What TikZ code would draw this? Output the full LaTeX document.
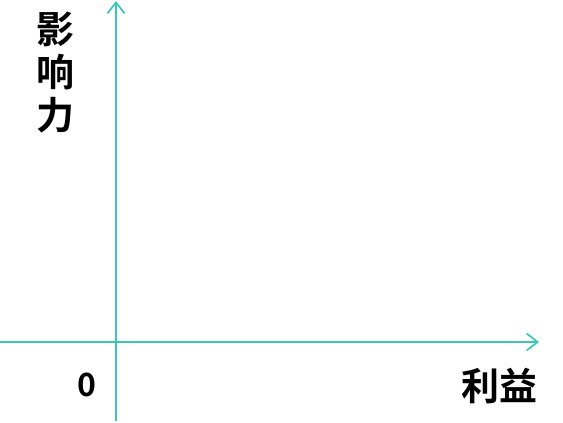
\documentclass[tikz,border=0pt]{standalone}
\usepackage{fontspec}
\usepackage{tikz}
\usetikzlibrary{positioning,arrows.meta}
\newfontfamily\cjk{Noto Sans CJK SC}[BoldFont={Noto Sans CJK SC Bold}]
\definecolor{AxisTeal}{HTML}{3CC6B8}

\begin{document}
\begin{tikzpicture}[
    x=1pt, y=1pt,
    axis/.style={line width=1.7pt, color=AxisTeal,
      -{Straight Barb[length=11pt, width=17pt, line width=1.7pt]}},
    label/.style={font=\cjk\bfseries\fontsize{38}{43}\selectfont, align=center, inner sep=0pt}
  ]
    \useasboundingbox (0,0) rectangle (563,423);
    % axes
    \coordinate (ybot) at (116,2);
    \coordinate (ytop) at (116,422);
    \coordinate (xleft) at (0,81);
    \coordinate (xright) at (539,81);
    \draw[axis] (ybot) -- (ytop);
    \draw[axis] (xleft) -- (xright);
    % labels
    \node[label] (infl) at (55,350) {影\\响\\力};
    \node[label, font=\cjk\bfseries\fontsize{32}{34}\selectfont] (zero) at (86.5,38) {0};
    \node[label] (gain) at (499,37) {利益};
  \end{tikzpicture}
\end{document}
